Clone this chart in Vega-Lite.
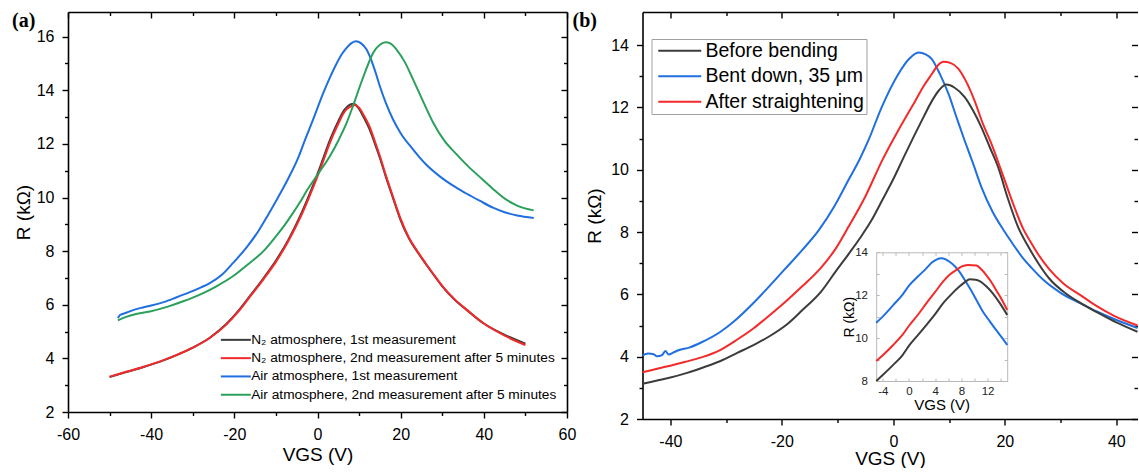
{
  "$schema": "https://vega.github.io/schema/vega-lite/v6.json",
  "background": "white",
  "padding": {"left": 12, "top": 11, "right": 0, "bottom": 0},
  "spacing": -3.5,
  "config": {
    "view": {"stroke": null},
    "font": "Liberation Sans",
    "axis": {"grid": false, "labelFont": "Liberation Sans", "labelFontSize": 16, "labelColor": "#000", "titleFont": "Liberation Sans", "titleFontSize": 19, "titleFontWeight": "normal", "titleColor": "#000", "domainColor": "#000", "domainWidth": 1.6, "tickColor": "#000", "tickWidth": 1.4, "labelPadding": 8, "labelFlush": false, "labelOverlap": false},
    "legend": {"labelFont": "Liberation Sans", "labelColor": "#000", "symbolStrokeWidth": 2},
    "title": {"font": "Liberation Serif", "fontSize": 20, "fontWeight": "bold", "anchor": "start", "frame": "group", "baseline": "top", "offset": -20, "color": "#000"}
  },
  "datasets": {
    "a": [
      {"series": "N₂ atmosphere, 1st measurement", "V": -50, "R": 3.3}, {"series": "N₂ atmosphere, 1st measurement", "V": -46, "R": 3.49}, {"series": "N₂ atmosphere, 1st measurement", "V": -42, "R": 3.67}, {"series": "N₂ atmosphere, 1st measurement", "V": -38, "R": 3.87}, {"series": "N₂ atmosphere, 1st measurement", "V": -34, "R": 4.11}, {"series": "N₂ atmosphere, 1st measurement", "V": -30, "R": 4.4}, {"series": "N₂ atmosphere, 1st measurement", "V": -26, "R": 4.76}, {"series": "N₂ atmosphere, 1st measurement", "V": -22, "R": 5.27}, {"series": "N₂ atmosphere, 1st measurement", "V": -19, "R": 5.78}, {"series": "N₂ atmosphere, 1st measurement", "V": -16, "R": 6.38}, {"series": "N₂ atmosphere, 1st measurement", "V": -13, "R": 6.99}, {"series": "N₂ atmosphere, 1st measurement", "V": -10, "R": 7.65}, {"series": "N₂ atmosphere, 1st measurement", "V": -7, "R": 8.43}, {"series": "N₂ atmosphere, 1st measurement", "V": -4, "R": 9.37}, {"series": "N₂ atmosphere, 1st measurement", "V": -1, "R": 10.48}, {"series": "N₂ atmosphere, 1st measurement", "V": 1, "R": 11.3}, {"series": "N₂ atmosphere, 1st measurement", "V": 3, "R": 12.15}, {"series": "N₂ atmosphere, 1st measurement", "V": 5, "R": 12.85}, {"series": "N₂ atmosphere, 1st measurement", "V": 6.5, "R": 13.28}, {"series": "N₂ atmosphere, 1st measurement", "V": 8, "R": 13.48}, {"series": "N₂ atmosphere, 1st measurement", "V": 8.7, "R": 13.5}, {"series": "N₂ atmosphere, 1st measurement", "V": 10, "R": 13.3}, {"series": "N₂ atmosphere, 1st measurement", "V": 11, "R": 13.02}, {"series": "N₂ atmosphere, 1st measurement", "V": 12.5, "R": 12.55}, {"series": "N₂ atmosphere, 1st measurement", "V": 14, "R": 11.92}, {"series": "N₂ atmosphere, 1st measurement", "V": 15, "R": 11.48}, {"series": "N₂ atmosphere, 1st measurement", "V": 16.5, "R": 10.74}, {"series": "N₂ atmosphere, 1st measurement", "V": 18, "R": 10.05}, {"series": "N₂ atmosphere, 1st measurement", "V": 20, "R": 9.15}, {"series": "N₂ atmosphere, 1st measurement", "V": 22, "R": 8.47}, {"series": "N₂ atmosphere, 1st measurement", "V": 24, "R": 7.98}, {"series": "N₂ atmosphere, 1st measurement", "V": 26, "R": 7.53}, {"series": "N₂ atmosphere, 1st measurement", "V": 28, "R": 7.1}, {"series": "N₂ atmosphere, 1st measurement", "V": 30, "R": 6.69}, {"series": "N₂ atmosphere, 1st measurement", "V": 33, "R": 6.19}, {"series": "N₂ atmosphere, 1st measurement", "V": 36, "R": 5.79}, {"series": "N₂ atmosphere, 1st measurement", "V": 40, "R": 5.3}, {"series": "N₂ atmosphere, 1st measurement", "V": 45, "R": 4.88}, {"series": "N₂ atmosphere, 1st measurement", "V": 50, "R": 4.55},
      {"series": "N₂ atmosphere, 2nd measurement after 5 minutes", "V": -50, "R": 3.32}, {"series": "N₂ atmosphere, 2nd measurement after 5 minutes", "V": -46, "R": 3.5}, {"series": "N₂ atmosphere, 2nd measurement after 5 minutes", "V": -42, "R": 3.68}, {"series": "N₂ atmosphere, 2nd measurement after 5 minutes", "V": -38, "R": 3.88}, {"series": "N₂ atmosphere, 2nd measurement after 5 minutes", "V": -34, "R": 4.12}, {"series": "N₂ atmosphere, 2nd measurement after 5 minutes", "V": -30, "R": 4.4}, {"series": "N₂ atmosphere, 2nd measurement after 5 minutes", "V": -26, "R": 4.75}, {"series": "N₂ atmosphere, 2nd measurement after 5 minutes", "V": -22, "R": 5.25}, {"series": "N₂ atmosphere, 2nd measurement after 5 minutes", "V": -19, "R": 5.75}, {"series": "N₂ atmosphere, 2nd measurement after 5 minutes", "V": -16, "R": 6.35}, {"series": "N₂ atmosphere, 2nd measurement after 5 minutes", "V": -13, "R": 6.95}, {"series": "N₂ atmosphere, 2nd measurement after 5 minutes", "V": -10, "R": 7.6}, {"series": "N₂ atmosphere, 2nd measurement after 5 minutes", "V": -7, "R": 8.38}, {"series": "N₂ atmosphere, 2nd measurement after 5 minutes", "V": -4, "R": 9.3}, {"series": "N₂ atmosphere, 2nd measurement after 5 minutes", "V": -1, "R": 10.4}, {"series": "N₂ atmosphere, 2nd measurement after 5 minutes", "V": 1, "R": 11.2}, {"series": "N₂ atmosphere, 2nd measurement after 5 minutes", "V": 3, "R": 12.05}, {"series": "N₂ atmosphere, 2nd measurement after 5 minutes", "V": 5, "R": 12.75}, {"series": "N₂ atmosphere, 2nd measurement after 5 minutes", "V": 6.5, "R": 13.2}, {"series": "N₂ atmosphere, 2nd measurement after 5 minutes", "V": 8, "R": 13.4}, {"series": "N₂ atmosphere, 2nd measurement after 5 minutes", "V": 9, "R": 13.45}, {"series": "N₂ atmosphere, 2nd measurement after 5 minutes", "V": 10, "R": 13.35}, {"series": "N₂ atmosphere, 2nd measurement after 5 minutes", "V": 11, "R": 13.1}, {"series": "N₂ atmosphere, 2nd measurement after 5 minutes", "V": 12.5, "R": 12.65}, {"series": "N₂ atmosphere, 2nd measurement after 5 minutes", "V": 14, "R": 12.0}, {"series": "N₂ atmosphere, 2nd measurement after 5 minutes", "V": 15, "R": 11.55}, {"series": "N₂ atmosphere, 2nd measurement after 5 minutes", "V": 16.5, "R": 10.8}, {"series": "N₂ atmosphere, 2nd measurement after 5 minutes", "V": 18, "R": 10.1}, {"series": "N₂ atmosphere, 2nd measurement after 5 minutes", "V": 20, "R": 9.2}, {"series": "N₂ atmosphere, 2nd measurement after 5 minutes", "V": 22, "R": 8.5}, {"series": "N₂ atmosphere, 2nd measurement after 5 minutes", "V": 24, "R": 8.0}, {"series": "N₂ atmosphere, 2nd measurement after 5 minutes", "V": 26, "R": 7.55}, {"series": "N₂ atmosphere, 2nd measurement after 5 minutes", "V": 28, "R": 7.12}, {"series": "N₂ atmosphere, 2nd measurement after 5 minutes", "V": 30, "R": 6.7}, {"series": "N₂ atmosphere, 2nd measurement after 5 minutes", "V": 33, "R": 6.2}, {"series": "N₂ atmosphere, 2nd measurement after 5 minutes", "V": 36, "R": 5.8}, {"series": "N₂ atmosphere, 2nd measurement after 5 minutes", "V": 40, "R": 5.3}, {"series": "N₂ atmosphere, 2nd measurement after 5 minutes", "V": 45, "R": 4.85}, {"series": "N₂ atmosphere, 2nd measurement after 5 minutes", "V": 50, "R": 4.5},
      {"series": "Air atmosphere, 1st measurement", "V": -48, "R": 5.5}, {"series": "Air atmosphere, 1st measurement", "V": -47.5, "R": 5.62}, {"series": "Air atmosphere, 1st measurement", "V": -46, "R": 5.7}, {"series": "Air atmosphere, 1st measurement", "V": -44, "R": 5.82}, {"series": "Air atmosphere, 1st measurement", "V": -42, "R": 5.9}, {"series": "Air atmosphere, 1st measurement", "V": -40, "R": 5.97}, {"series": "Air atmosphere, 1st measurement", "V": -37, "R": 6.1}, {"series": "Air atmosphere, 1st measurement", "V": -34, "R": 6.27}, {"series": "Air atmosphere, 1st measurement", "V": -31, "R": 6.45}, {"series": "Air atmosphere, 1st measurement", "V": -28, "R": 6.65}, {"series": "Air atmosphere, 1st measurement", "V": -26, "R": 6.8}, {"series": "Air atmosphere, 1st measurement", "V": -23, "R": 7.12}, {"series": "Air atmosphere, 1st measurement", "V": -20.3, "R": 7.56}, {"series": "Air atmosphere, 1st measurement", "V": -17, "R": 8.15}, {"series": "Air atmosphere, 1st measurement", "V": -14, "R": 8.8}, {"series": "Air atmosphere, 1st measurement", "V": -12, "R": 9.32}, {"series": "Air atmosphere, 1st measurement", "V": -9.5, "R": 10.0}, {"series": "Air atmosphere, 1st measurement", "V": -7, "R": 10.72}, {"series": "Air atmosphere, 1st measurement", "V": -4.6, "R": 11.5}, {"series": "Air atmosphere, 1st measurement", "V": -3, "R": 12.15}, {"series": "Air atmosphere, 1st measurement", "V": -1, "R": 12.93}, {"series": "Air atmosphere, 1st measurement", "V": 1.4, "R": 13.9}, {"series": "Air atmosphere, 1st measurement", "V": 3, "R": 14.48}, {"series": "Air atmosphere, 1st measurement", "V": 4.6, "R": 15.0}, {"series": "Air atmosphere, 1st measurement", "V": 6, "R": 15.38}, {"series": "Air atmosphere, 1st measurement", "V": 7, "R": 15.58}, {"series": "Air atmosphere, 1st measurement", "V": 8, "R": 15.74}, {"series": "Air atmosphere, 1st measurement", "V": 9.2, "R": 15.83}, {"series": "Air atmosphere, 1st measurement", "V": 10.5, "R": 15.75}, {"series": "Air atmosphere, 1st measurement", "V": 11.8, "R": 15.52}, {"series": "Air atmosphere, 1st measurement", "V": 13, "R": 15.1}, {"series": "Air atmosphere, 1st measurement", "V": 14, "R": 14.65}, {"series": "Air atmosphere, 1st measurement", "V": 15, "R": 14.15}, {"series": "Air atmosphere, 1st measurement", "V": 16.5, "R": 13.5}, {"series": "Air atmosphere, 1st measurement", "V": 18.2, "R": 12.9}, {"series": "Air atmosphere, 1st measurement", "V": 20, "R": 12.4}, {"series": "Air atmosphere, 1st measurement", "V": 23, "R": 11.79}, {"series": "Air atmosphere, 1st measurement", "V": 26, "R": 11.25}, {"series": "Air atmosphere, 1st measurement", "V": 29.4, "R": 10.79}, {"series": "Air atmosphere, 1st measurement", "V": 32.5, "R": 10.45}, {"series": "Air atmosphere, 1st measurement", "V": 35.8, "R": 10.15}, {"series": "Air atmosphere, 1st measurement", "V": 39, "R": 9.88}, {"series": "Air atmosphere, 1st measurement", "V": 42.2, "R": 9.62}, {"series": "Air atmosphere, 1st measurement", "V": 45, "R": 9.45}, {"series": "Air atmosphere, 1st measurement", "V": 48, "R": 9.33}, {"series": "Air atmosphere, 1st measurement", "V": 52, "R": 9.24},
      {"series": "Air atmosphere, 2nd measurement after 5 minutes", "V": -48, "R": 5.42}, {"series": "Air atmosphere, 2nd measurement after 5 minutes", "V": -46, "R": 5.55}, {"series": "Air atmosphere, 2nd measurement after 5 minutes", "V": -44.3, "R": 5.63}, {"series": "Air atmosphere, 2nd measurement after 5 minutes", "V": -42, "R": 5.7}, {"series": "Air atmosphere, 2nd measurement after 5 minutes", "V": -40.3, "R": 5.75}, {"series": "Air atmosphere, 2nd measurement after 5 minutes", "V": -36, "R": 5.93}, {"series": "Air atmosphere, 2nd measurement after 5 minutes", "V": -32.3, "R": 6.13}, {"series": "Air atmosphere, 2nd measurement after 5 minutes", "V": -28, "R": 6.4}, {"series": "Air atmosphere, 2nd measurement after 5 minutes", "V": -24.3, "R": 6.69}, {"series": "Air atmosphere, 2nd measurement after 5 minutes", "V": -20, "R": 7.1}, {"series": "Air atmosphere, 2nd measurement after 5 minutes", "V": -16.3, "R": 7.56}, {"series": "Air atmosphere, 2nd measurement after 5 minutes", "V": -13, "R": 8.0}, {"series": "Air atmosphere, 2nd measurement after 5 minutes", "V": -10, "R": 8.55}, {"series": "Air atmosphere, 2nd measurement after 5 minutes", "V": -8, "R": 8.95}, {"series": "Air atmosphere, 2nd measurement after 5 minutes", "V": -6, "R": 9.4}, {"series": "Air atmosphere, 2nd measurement after 5 minutes", "V": -4, "R": 9.88}, {"series": "Air atmosphere, 2nd measurement after 5 minutes", "V": -2.6, "R": 10.25}, {"series": "Air atmosphere, 2nd measurement after 5 minutes", "V": 0, "R": 10.85}, {"series": "Air atmosphere, 2nd measurement after 5 minutes", "V": 3, "R": 11.55}, {"series": "Air atmosphere, 2nd measurement after 5 minutes", "V": 5, "R": 12.12}, {"series": "Air atmosphere, 2nd measurement after 5 minutes", "V": 7, "R": 12.78}, {"series": "Air atmosphere, 2nd measurement after 5 minutes", "V": 8.5, "R": 13.4}, {"series": "Air atmosphere, 2nd measurement after 5 minutes", "V": 10.2, "R": 14.15}, {"series": "Air atmosphere, 2nd measurement after 5 minutes", "V": 12, "R": 14.9}, {"series": "Air atmosphere, 2nd measurement after 5 minutes", "V": 13.4, "R": 15.4}, {"series": "Air atmosphere, 2nd measurement after 5 minutes", "V": 15, "R": 15.7}, {"series": "Air atmosphere, 2nd measurement after 5 minutes", "V": 16.4, "R": 15.79}, {"series": "Air atmosphere, 2nd measurement after 5 minutes", "V": 17.5, "R": 15.75}, {"series": "Air atmosphere, 2nd measurement after 5 minutes", "V": 19, "R": 15.52}, {"series": "Air atmosphere, 2nd measurement after 5 minutes", "V": 21, "R": 15.05}, {"series": "Air atmosphere, 2nd measurement after 5 minutes", "V": 23, "R": 14.4}, {"series": "Air atmosphere, 2nd measurement after 5 minutes", "V": 25.5, "R": 13.55}, {"series": "Air atmosphere, 2nd measurement after 5 minutes", "V": 27.8, "R": 12.8}, {"series": "Air atmosphere, 2nd measurement after 5 minutes", "V": 30.5, "R": 12.12}, {"series": "Air atmosphere, 2nd measurement after 5 minutes", "V": 33.4, "R": 11.62}, {"series": "Air atmosphere, 2nd measurement after 5 minutes", "V": 36, "R": 11.2}, {"series": "Air atmosphere, 2nd measurement after 5 minutes", "V": 39, "R": 10.77}, {"series": "Air atmosphere, 2nd measurement after 5 minutes", "V": 42, "R": 10.35}, {"series": "Air atmosphere, 2nd measurement after 5 minutes", "V": 45.4, "R": 9.92}, {"series": "Air atmosphere, 2nd measurement after 5 minutes", "V": 48, "R": 9.7}, {"series": "Air atmosphere, 2nd measurement after 5 minutes", "V": 52, "R": 9.52}
    ],
    "b": [
      {"series": "Bent down, 35 μm", "V": -45, "R": 4.04}, {"series": "Bent down, 35 μm", "V": -44, "R": 4.1}, {"series": "Bent down, 35 μm", "V": -43, "R": 4.08}, {"series": "Bent down, 35 μm", "V": -42.4, "R": 4.01}, {"series": "Bent down, 35 μm", "V": -41.5, "R": 4.05}, {"series": "Bent down, 35 μm", "V": -40.9, "R": 4.18}, {"series": "Bent down, 35 μm", "V": -40.3, "R": 4.07}, {"series": "Bent down, 35 μm", "V": -39.5, "R": 4.13}, {"series": "Bent down, 35 μm", "V": -38.8, "R": 4.19}, {"series": "Bent down, 35 μm", "V": -36.5, "R": 4.3}, {"series": "Bent down, 35 μm", "V": -34.3, "R": 4.47}, {"series": "Bent down, 35 μm", "V": -31, "R": 4.8}, {"series": "Bent down, 35 μm", "V": -28.4, "R": 5.16}, {"series": "Bent down, 35 μm", "V": -25.5, "R": 5.65}, {"series": "Bent down, 35 μm", "V": -22.4, "R": 6.23}, {"series": "Bent down, 35 μm", "V": -19.5, "R": 6.8}, {"series": "Bent down, 35 μm", "V": -16.4, "R": 7.41}, {"series": "Bent down, 35 μm", "V": -13.4, "R": 8.05}, {"series": "Bent down, 35 μm", "V": -10.5, "R": 8.85}, {"series": "Bent down, 35 μm", "V": -8.1, "R": 9.65}, {"series": "Bent down, 35 μm", "V": -6, "R": 10.35}, {"series": "Bent down, 35 μm", "V": -4.5, "R": 10.93}, {"series": "Bent down, 35 μm", "V": -2.1, "R": 12.0}, {"series": "Bent down, 35 μm", "V": 0.9, "R": 13.07}, {"series": "Bent down, 35 μm", "V": 2.8, "R": 13.55}, {"series": "Bent down, 35 μm", "V": 4.5, "R": 13.76}, {"series": "Bent down, 35 μm", "V": 5.8, "R": 13.7}, {"series": "Bent down, 35 μm", "V": 6.9, "R": 13.55}, {"series": "Bent down, 35 μm", "V": 8.4, "R": 13.05}, {"series": "Bent down, 35 μm", "V": 9.9, "R": 12.43}, {"series": "Bent down, 35 μm", "V": 11.3, "R": 11.7}, {"series": "Bent down, 35 μm", "V": 12.8, "R": 10.93}, {"series": "Bent down, 35 μm", "V": 14.3, "R": 10.2}, {"series": "Bent down, 35 μm", "V": 15.8, "R": 9.44}, {"series": "Bent down, 35 μm", "V": 17.8, "R": 8.65}, {"series": "Bent down, 35 μm", "V": 20, "R": 8.0}, {"series": "Bent down, 35 μm", "V": 21.5, "R": 7.6}, {"series": "Bent down, 35 μm", "V": 23, "R": 7.22}, {"series": "Bent down, 35 μm", "V": 24.8, "R": 6.85}, {"series": "Bent down, 35 μm", "V": 27, "R": 6.45}, {"series": "Bent down, 35 μm", "V": 30, "R": 6.05}, {"series": "Bent down, 35 μm", "V": 33.7, "R": 5.7}, {"series": "Bent down, 35 μm", "V": 36.5, "R": 5.45}, {"series": "Bent down, 35 μm", "V": 39.7, "R": 5.2}, {"series": "Bent down, 35 μm", "V": 43.8, "R": 4.92},
      {"series": "Before bending", "V": -45, "R": 3.13}, {"series": "Before bending", "V": -42, "R": 3.25}, {"series": "Before bending", "V": -40, "R": 3.33}, {"series": "Before bending", "V": -37, "R": 3.48}, {"series": "Before bending", "V": -34, "R": 3.66}, {"series": "Before bending", "V": -31, "R": 3.86}, {"series": "Before bending", "V": -28, "R": 4.12}, {"series": "Before bending", "V": -25, "R": 4.38}, {"series": "Before bending", "V": -22, "R": 4.68}, {"series": "Before bending", "V": -19, "R": 5.05}, {"series": "Before bending", "V": -16.4, "R": 5.48}, {"series": "Before bending", "V": -13, "R": 6.08}, {"series": "Before bending", "V": -10.4, "R": 6.72}, {"series": "Before bending", "V": -8, "R": 7.3}, {"series": "Before bending", "V": -6, "R": 7.8}, {"series": "Before bending", "V": -4, "R": 8.35}, {"series": "Before bending", "V": -2, "R": 9.02}, {"series": "Before bending", "V": 0, "R": 9.7}, {"series": "Before bending", "V": 2, "R": 10.45}, {"series": "Before bending", "V": 3.9, "R": 11.15}, {"series": "Before bending", "V": 5.5, "R": 11.72}, {"series": "Before bending", "V": 6.9, "R": 12.2}, {"series": "Before bending", "V": 8.2, "R": 12.55}, {"series": "Before bending", "V": 9.5, "R": 12.73}, {"series": "Before bending", "V": 11, "R": 12.63}, {"series": "Before bending", "V": 12.8, "R": 12.33}, {"series": "Before bending", "V": 14.3, "R": 11.9}, {"series": "Before bending", "V": 15.8, "R": 11.36}, {"series": "Before bending", "V": 17.3, "R": 10.72}, {"series": "Before bending", "V": 18.8, "R": 10.08}, {"series": "Before bending", "V": 20.5, "R": 9.1}, {"series": "Before bending", "V": 22.4, "R": 8.15}, {"series": "Before bending", "V": 24, "R": 7.6}, {"series": "Before bending", "V": 26, "R": 7.0}, {"series": "Before bending", "V": 28, "R": 6.5}, {"series": "Before bending", "V": 31, "R": 6.02}, {"series": "Before bending", "V": 34, "R": 5.68}, {"series": "Before bending", "V": 37, "R": 5.38}, {"series": "Before bending", "V": 40, "R": 5.1}, {"series": "Before bending", "V": 43.8, "R": 4.8},
      {"series": "After straightening", "V": -45, "R": 3.5}, {"series": "After straightening", "V": -42, "R": 3.63}, {"series": "After straightening", "V": -40, "R": 3.71}, {"series": "After straightening", "V": -37, "R": 3.85}, {"series": "After straightening", "V": -34, "R": 4.0}, {"series": "After straightening", "V": -31, "R": 4.22}, {"series": "After straightening", "V": -28, "R": 4.55}, {"series": "After straightening", "V": -25, "R": 4.92}, {"series": "After straightening", "V": -22.4, "R": 5.3}, {"series": "After straightening", "V": -19, "R": 5.82}, {"series": "After straightening", "V": -16.4, "R": 6.25}, {"series": "After straightening", "V": -13, "R": 6.85}, {"series": "After straightening", "V": -10.4, "R": 7.45}, {"series": "After straightening", "V": -8.1, "R": 8.15}, {"series": "After straightening", "V": -5, "R": 9.15}, {"series": "After straightening", "V": -2, "R": 10.3}, {"series": "After straightening", "V": 1, "R": 11.3}, {"series": "After straightening", "V": 3.9, "R": 12.2}, {"series": "After straightening", "V": 5.5, "R": 12.7}, {"series": "After straightening", "V": 6.9, "R": 13.07}, {"series": "After straightening", "V": 8, "R": 13.35}, {"series": "After straightening", "V": 9, "R": 13.46}, {"series": "After straightening", "V": 10.3, "R": 13.42}, {"series": "After straightening", "V": 11.6, "R": 13.25}, {"series": "After straightening", "V": 13, "R": 12.85}, {"series": "After straightening", "V": 14.6, "R": 12.2}, {"series": "After straightening", "V": 16, "R": 11.5}, {"series": "After straightening", "V": 17.6, "R": 10.83}, {"series": "After straightening", "V": 19.5, "R": 9.9}, {"series": "After straightening", "V": 21.5, "R": 8.9}, {"series": "After straightening", "V": 23.3, "R": 8.1}, {"series": "After straightening", "V": 24.5, "R": 7.72}, {"series": "After straightening", "V": 26, "R": 7.28}, {"series": "After straightening", "V": 28, "R": 6.8}, {"series": "After straightening", "V": 30.5, "R": 6.35}, {"series": "After straightening", "V": 33.7, "R": 5.96}, {"series": "After straightening", "V": 36.5, "R": 5.62}, {"series": "After straightening", "V": 39.7, "R": 5.3}, {"series": "After straightening", "V": 43.8, "R": 5.0}
    ],
    "inset": [
      {"series": "Bent down, 35 μm", "V": -5, "R": 10.72}, {"series": "Bent down, 35 μm", "V": -4, "R": 11.0}, {"series": "Bent down, 35 μm", "V": -2.4, "R": 11.54}, {"series": "Bent down, 35 μm", "V": -1, "R": 12.02}, {"series": "Bent down, 35 μm", "V": 0.1, "R": 12.48}, {"series": "Bent down, 35 μm", "V": 1.4, "R": 12.88}, {"series": "Bent down, 35 μm", "V": 2.65, "R": 13.25}, {"series": "Bent down, 35 μm", "V": 3.5, "R": 13.52}, {"series": "Bent down, 35 μm", "V": 4.2, "R": 13.66}, {"series": "Bent down, 35 μm", "V": 4.95, "R": 13.72}, {"series": "Bent down, 35 μm", "V": 5.6, "R": 13.67}, {"series": "Bent down, 35 μm", "V": 6.2, "R": 13.56}, {"series": "Bent down, 35 μm", "V": 7, "R": 13.35}, {"series": "Bent down, 35 μm", "V": 7.7, "R": 13.1}, {"series": "Bent down, 35 μm", "V": 8.5, "R": 12.72}, {"series": "Bent down, 35 μm", "V": 9.3, "R": 12.32}, {"series": "Bent down, 35 μm", "V": 10.3, "R": 11.78}, {"series": "Bent down, 35 μm", "V": 11.3, "R": 11.23}, {"series": "Bent down, 35 μm", "V": 12.3, "R": 10.8}, {"series": "Bent down, 35 μm", "V": 13.3, "R": 10.38}, {"series": "Bent down, 35 μm", "V": 14.2, "R": 10.02}, {"series": "Bent down, 35 μm", "V": 15, "R": 9.68},
      {"series": "Before bending", "V": -5, "R": 8.0}, {"series": "Before bending", "V": -4, "R": 8.28}, {"series": "Before bending", "V": -2.4, "R": 8.75}, {"series": "Before bending", "V": -1, "R": 9.2}, {"series": "Before bending", "V": 0.1, "R": 9.68}, {"series": "Before bending", "V": 1.4, "R": 10.15}, {"series": "Before bending", "V": 2.65, "R": 10.61}, {"series": "Before bending", "V": 4, "R": 11.12}, {"series": "Before bending", "V": 5.2, "R": 11.62}, {"series": "Before bending", "V": 6.5, "R": 12.05}, {"series": "Before bending", "V": 7.7, "R": 12.4}, {"series": "Before bending", "V": 8.5, "R": 12.6}, {"series": "Before bending", "V": 9.3, "R": 12.74}, {"series": "Before bending", "V": 10.2, "R": 12.72}, {"series": "Before bending", "V": 10.8, "R": 12.66}, {"series": "Before bending", "V": 11.8, "R": 12.42}, {"series": "Before bending", "V": 12.8, "R": 12.09}, {"series": "Before bending", "V": 13.9, "R": 11.62}, {"series": "Before bending", "V": 15, "R": 11.08},
      {"series": "After straightening", "V": -5, "R": 8.93}, {"series": "After straightening", "V": -4, "R": 9.2}, {"series": "After straightening", "V": -2.4, "R": 9.68}, {"series": "After straightening", "V": -1, "R": 10.15}, {"series": "After straightening", "V": 0.1, "R": 10.61}, {"series": "After straightening", "V": 1.4, "R": 11.1}, {"series": "After straightening", "V": 2.65, "R": 11.62}, {"series": "After straightening", "V": 4, "R": 12.15}, {"series": "After straightening", "V": 5.2, "R": 12.63}, {"series": "After straightening", "V": 6.2, "R": 12.95}, {"series": "After straightening", "V": 7.2, "R": 13.17}, {"series": "After straightening", "V": 8, "R": 13.33}, {"series": "After straightening", "V": 9, "R": 13.41}, {"series": "After straightening", "V": 10.3, "R": 13.38}, {"series": "After straightening", "V": 11, "R": 13.22}, {"series": "After straightening", "V": 11.8, "R": 12.94}, {"series": "After straightening", "V": 12.5, "R": 12.65}, {"series": "After straightening", "V": 13.3, "R": 12.24}, {"series": "After straightening", "V": 14.2, "R": 11.78}, {"series": "After straightening", "V": 15, "R": 11.31}
    ]
  },
  "resolve": {"scale": {"color": "independent"}, "legend": {"color": "independent"}},
  "hconcat": [
    {
      "width": 499,
      "height": 400,
      "title": {"text": "(a)", "dx": -56},
      "data": {"name": "a"},
      "resolve": {"axis": {"x": "independent", "y": "independent"}},
      "layer": [
        {
          "mark": {"type": "line", "strokeWidth": 2, "interpolate": "monotone"},
          "encoding": {
            "x": {"field": "V", "type": "quantitative", "scale": {"domain": [-60, 60], "nice": false},
              "axis": {"orient": "bottom", "title": "VGS (V)", "values": [-60, -50, -40, -30, -20, -10, 0, 10, 20, 30, 40, 50, 60], "labelExpr": "datum.value % 20 === 0 ? '' + datum.value : ''", "tickSize": {"condition": {"test": "datum.value % 20 === 0", "value": 6}, "value": 3.5}, "titlePadding": 3}},
            "y": {"field": "R", "type": "quantitative", "scale": {"domain": [2, 16.92], "nice": false, "zero": false},
              "axis": {"orient": "left", "title": "R (kΩ)", "values": [2, 3, 4, 5, 6, 7, 8, 9, 10, 11, 12, 13, 14, 15, 16], "labelExpr": "datum.value % 2 === 0 ? '' + datum.value : ''", "tickSize": {"condition": {"test": "datum.value % 2 === 0", "value": 6}, "value": 3.5}, "titlePadding": 3}},
            "color": {"field": "series", "type": "nominal",
              "scale": {"domain": ["N₂ atmosphere, 1st measurement", "N₂ atmosphere, 2nd measurement after 5 minutes", "Air atmosphere, 1st measurement", "Air atmosphere, 2nd measurement after 5 minutes"], "range": ["#3c3c3c", "#f42a2a", "#1f6fe0", "#2aa05a"]},
              "legend": {"title": null, "orient": "bottom-right", "offset": 10, "padding": 0, "labelFontSize": 13.7, "symbolType": "M-1,0H5", "symbolSize": 100, "labelOffset": 18.5, "rowPadding": 3.3, "labelLimit": 400}}
          }
        },
        {
          "mark": {"type": "point", "opacity": 0},
          "encoding": {
            "x": {"field": "V", "type": "quantitative", "scale": {"domain": [-60, 60], "nice": false},
              "axis": {"orient": "top", "title": null, "labels": false, "values": [-60, -50, -40, -30, -20, -10, 0, 10, 20, 30, 40, 50, 60], "tickSize": {"condition": {"test": "datum.value % 20 === 0", "value": -6}, "value": -3.5}}},
            "y": {"field": "R", "type": "quantitative", "scale": {"domain": [2, 16.92], "nice": false, "zero": false},
              "axis": {"orient": "right", "title": null, "labels": false, "values": [2, 3, 4, 5, 6, 7, 8, 9, 10, 11, 12, 13, 14, 15, 16], "tickSize": {"condition": {"test": "datum.value % 2 === 0", "value": -6}, "value": -3.5}}}
          }
        }
      ]
    },
    {
      "width": 495,
      "height": 407,
      "title": {"text": "(b)", "dx": -70},
      "resolve": {"scale": {"x": "independent", "y": "independent"}, "axis": {"x": "independent", "y": "independent"}},
      "layer": [
        {
          "data": {"name": "b"},
          "mark": {"type": "line", "strokeWidth": 2, "interpolate": "monotone"},
          "encoding": {
            "x": {"field": "V", "type": "quantitative", "scale": {"domain": [-45, 43.8], "nice": false},
              "axis": {"orient": "bottom", "title": "VGS (V)", "values": [-40, -30, -20, -10, 0, 10, 20, 30, 40], "labelExpr": "datum.value % 20 === 0 ? '' + datum.value : ''", "tickSize": {"condition": {"test": "datum.value % 20 === 0", "value": 6}, "value": 3.5}, "titlePadding": 0}},
            "y": {"field": "R", "type": "quantitative", "scale": {"domain": [2, 15.06], "nice": false, "zero": false},
              "axis": {"orient": "left", "title": "R (kΩ)", "values": [2, 3, 4, 5, 6, 7, 8, 9, 10, 11, 12, 13, 14], "labelExpr": "datum.value % 2 === 0 ? '' + datum.value : ''", "tickSize": {"condition": {"test": "datum.value % 2 === 0", "value": 6}, "value": 3.5}, "titlePadding": 6.5}},
            "color": {"field": "series", "type": "nominal",
              "scale": {"domain": ["Before bending", "Bent down, 35 μm", "After straightening"], "range": ["#3c3c3c", "#1f6fe0", "#f42a2a"]},
              "legend": {"title": null, "orient": "none", "legendX": 9, "legendY": 27, "padding": 2, "strokeColor": "#a0a0a0", "fillColor": "white", "labelFontSize": 19.5, "symbolType": "M-1,0H7.6", "symbolSize": 100, "labelOffset": 32.5, "rowPadding": 4.5, "labelLimit": 400}}
          }
        },
        {
          "data": {"name": "b"},
          "mark": {"type": "point", "opacity": 0},
          "encoding": {
            "x": {"field": "V", "type": "quantitative", "scale": {"domain": [-45, 43.8], "nice": false},
              "axis": {"orient": "top", "title": null, "labels": false, "values": [-40, -30, -20, -10, 0, 10, 20, 30, 40], "tickSize": {"condition": {"test": "datum.value % 20 === 0", "value": -6}, "value": -3.5}}},
            "y": {"field": "R", "type": "quantitative", "scale": {"domain": [2, 15.06], "nice": false, "zero": false},
              "axis": {"orient": "right", "title": null, "labels": false, "domain": false, "values": [2, 3, 4, 5, 6, 7, 8, 9, 10, 11, 12, 13, 14], "tickSize": {"condition": {"test": "datum.value % 2 === 0", "value": -6}, "value": -3.5}}}
          }
        },
        {
          "data": {"name": "inset"},
          "mark": {"type": "line", "strokeWidth": 2, "interpolate": "monotone"},
          "encoding": {
            "x": {"field": "V", "type": "quantitative", "scale": {"domain": [-5, 15], "nice": false, "range": [233.7, 364.7]},
              "axis": {"orient": "bottom", "offset": -38, "title": "VGS (V)", "titleFontSize": 15, "titlePadding": 1, "values": [-4, -2, 0, 2, 4, 6, 8, 10, 12, 14], "labelExpr": "datum.value % 4 === 0 ? '' + datum.value : ''", "labelFontSize": 11.5, "labelColor": "#222", "labelPadding": 7, "domainColor": "#b8b8b8", "domainWidth": 1, "tickColor": "#b8b8b8", "tickWidth": 1, "tickSize": -3}},
            "y": {"field": "R", "type": "quantitative", "scale": {"domain": [8, 14], "nice": false, "zero": false, "range": [369, 240.3]},
              "axis": {"orient": "left", "offset": -233.7, "title": "R (kΩ)", "titleFontSize": 14, "titlePadding": -2, "values": [8, 9, 10, 11, 12, 13, 14], "labelExpr": "datum.value % 2 === 0 ? '' + datum.value : ''", "labelFontSize": 11.5, "labelColor": "#222", "labelPadding": 11.7, "domainColor": "#b8b8b8", "domainWidth": 1, "tickColor": "#b8b8b8", "tickWidth": 1, "tickSize": -3}},
            "color": {"field": "series", "type": "nominal", "legend": null}
          }
        },
        {
          "data": {"name": "inset"},
          "mark": {"type": "point", "opacity": 0},
          "encoding": {
            "x": {"field": "V", "type": "quantitative", "scale": {"domain": [-5, 15], "nice": false, "range": [233.7, 364.7]},
              "axis": {"orient": "top", "offset": -240.3, "title": null, "labels": false, "values": [-4, -2, 0, 2, 4, 6, 8, 10, 12, 14], "domainColor": "#b8b8b8", "domainWidth": 1, "tickColor": "#b8b8b8", "tickWidth": 1, "tickSize": -3}},
            "y": {"field": "R", "type": "quantitative", "scale": {"domain": [8, 14], "nice": false, "zero": false, "range": [369, 240.3]},
              "axis": {"orient": "right", "offset": -130.3, "title": null, "labels": false, "values": [8, 9, 10, 11, 12, 13, 14], "domainColor": "#b8b8b8", "domainWidth": 1, "tickColor": "#b8b8b8", "tickWidth": 1, "tickSize": -3}}
          }
        }
      ]
    }
  ]
}
